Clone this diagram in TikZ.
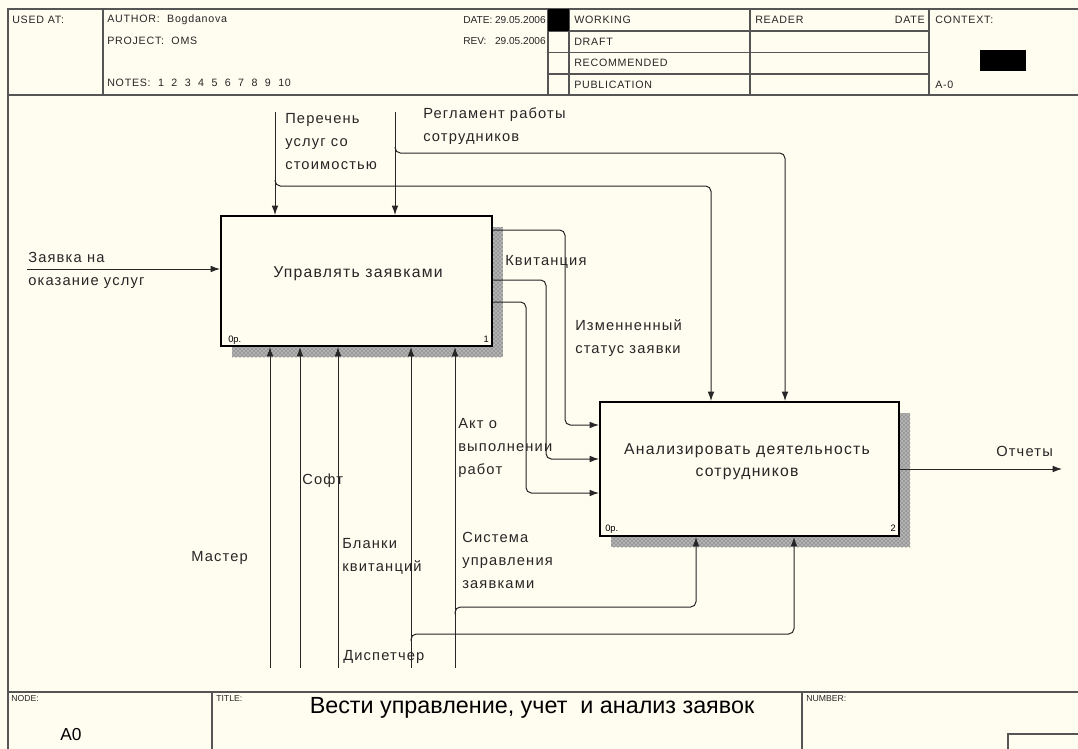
\documentclass[tikz,border=0pt]{standalone}
\usepackage{fontspec}
\setmainfont{Liberation Sans}
\newfontfamily\lblfont[LetterSpace=8]{Liberation Sans}
\newfontfamily\hdrfont[LetterSpace=7]{Liberation Sans}
\usetikzlibrary{arrows.meta,calc,patterns}
\definecolor{paper}{RGB}{255,252,240}
\definecolor{rule}{RGB}{85,85,85}
\begin{document}
\begin{tikzpicture}[x=0.75pt,y=-0.75pt,
  frameline/.style={draw=rule, line width=0.8pt},
  hdr/.style={font=\hdrfont\fontsize{8}{9.6}\selectfont, inner sep=0pt, anchor=west, text=black!85},
  hdrr/.style={hdr, anchor=east},
  datefont/.style={font=\fontsize{7.6}{9}\selectfont},
  lbl/.style={font=\lblfont\fontsize{11}{17.25}\selectfont, inner sep=0pt, anchor=base west, align=left, text=black!85},
  boxtext/.style={font=\lblfont\fontsize{11.8}{16}\selectfont, inner sep=0pt, anchor=base, align=center, text=black!85},
  corner/.style={font=\fontsize{7}{8}\selectfont, inner sep=0pt, anchor=base west},
  actbox/.style={draw=black, line width=1.5pt, fill=paper, inner sep=0pt},
  flow/.style={draw=black!85, line width=0.75pt, rounded corners=4pt},
  tip/.style={-{Latex[length=7pt,width=5pt]}},
]
\useasboundingbox (0,0) rectangle (1078,749);
\fill[paper] (0,0) rectangle (1078,749);

% ---- header frame ----
\draw[frameline] (1078,9) -- (8,9) -- (8,749);
\draw[frameline] (8,95) -- (1078,95);
\draw[frameline] (103,9) -- (103,95);
\draw[frameline] (548,9) -- (548,95);
\draw[frameline] (569,9) -- (569,95);
\draw[frameline] (750,9) -- (750,95);
\draw[frameline] (929,9) -- (929,95);
\foreach \yy in {31,52.5,74} \draw[frameline] (548,\yy) -- (929,\yy);
\fill[black] (548,9) rectangle (569,31);
\fill[black] (980,50) rectangle (1026,71);

\node[hdr] (usedat) at (12,20) {USED AT:};
\node[hdr] (author) at (107,20) {AUTHOR:~ Bogdanova};
\node[hdr] (project) at (107,41) {PROJECT:~ OMS};
\node[hdr] (notes) at (107,83) {NOTES:~ 1~ 2~ 3~ 4~ 5~ 6~ 7~ 8~ 9~ 10};
\node[hdr, datefont] (datek) at (463,20) {DATE:};
\node[hdrr, datefont] (datev) at (546,20) {29.05.2006};
\node[hdr, datefont] (revk) at (463,41) {REV:};
\node[hdrr, datefont] (revv) at (546,41) {29.05.2006};
\node[hdr] (working) at (574,20) {WORKING};
\node[hdr] (draft) at (574,42) {DRAFT};
\node[hdr] (recom) at (574,63) {RECOMMENDED};
\node[hdr] (publ) at (574,85) {PUBLICATION};
\node[hdr] (reader) at (755,20) {READER};
\node[hdrr] (rdate) at (925,20) {DATE};
\node[hdr] (context) at (935,20) {CONTEXT:};
\node[hdr] (aminus) at (935,85) {A-0};

% ---- footer frame ----
\draw[frameline] (8,692) -- (1078,692);
\draw[frameline] (212,692) -- (212,749);
\draw[frameline] (802,692) -- (802,749);
\draw[frameline] (1078,734) -- (1008,734) -- (1008,749);
\node[hdr, font=\fontsize{6.5}{8}\selectfont] (nodek) at (11,699) {NODE:};
\node[hdr, font=\fontsize{6.5}{8}\selectfont] (titlek) at (216,699) {TITLE:};
\node[hdr, font=\fontsize{6.5}{8}\selectfont] (numberk) at (806,699) {NUMBER:};
\node[font=\fontsize{13}{15}\selectfont, inner sep=0pt] (nodev) at (71,735) {A0};
\node[font=\fontsize{17.5}{20}\selectfont, inner sep=0pt] (titlev) at (532,708) {Вести управление, учет~ и анализ заявок};

% ---- activity boxes with hatched shadows ----
\fill[black!30] (232,227) rectangle (503,357);
\fill[pattern=crosshatch dots, pattern color=black!70] (232,227) rectangle (503,357);
\fill[black!30] (611,413) rectangle (910,547);
\fill[pattern=crosshatch dots, pattern color=black!70] (611,413) rectangle (910,547);
\node[actbox, minimum width=203.25pt, minimum height=97.5pt] (b1) at (356.5,281) {};
\node[actbox, minimum width=224.25pt, minimum height=100.5pt] (b2) at (749.5,469) {};
\node[boxtext] (t1) at (358,277) {Управлять заявками};
\node[boxtext] (t2) at (747,476) {Анализировать деятельность\\сотрудников};
\node[corner] (n1a) at (228,342) {0р.};
\node[corner, anchor=base east] (n1b) at (489,342) {1};
\node[corner] (n2a) at (605,531) {0р.};
\node[corner, anchor=base east] (n2b) at (896,531) {2};

% ---- input ----
\coordinate (inZ) at (27,269);
\draw[flow,tip] (inZ) -- (inZ -| b1.west);
\node[lbl] (linZ) at (28,285) {Заявка на\\оказание услуг};

% ---- controls ----
\coordinate (cPer) at (275,112);
\coordinate (cReg) at (395,112);
\draw[flow,tip] (cPer) -- (cPer |- b1.north);
\draw[flow,tip] (cReg) -- (cReg |- b1.north);
\coordinate (jPer) at (275,180);
\coordinate (kPer) at (711,186);
\draw[flow,tip] (jPer) |- (kPer) -- (kPer |- b2.north);
\coordinate (jReg) at (395,147);
\coordinate (kReg) at (785,153);
\draw[flow,tip] (jReg) |- (kReg) -- (kReg |- b2.north);
\node[lbl] (lPer) at (285,169) {Перечень\\услуг со\\стоимостью};
\node[lbl] (lReg) at (423,142) {Регламент работы\\сотрудников};

% ---- outputs of box 1 into box 2 ----
\coordinate (q1a) at (565,230); \coordinate (q1b) at (565,425);
\coordinate (q2a) at (546,280); \coordinate (q2b) at (546,459);
\coordinate (q3a) at (526,302); \coordinate (q3b) at (526,493);
\draw[flow,tip] (b1.east |- q1a) -- (q1a) -- (q1b) -- (b2.west |- q1b);
\draw[flow,tip] (b1.east |- q2a) -- (q2a) -- (q2b) -- (b2.west |- q2b);
\draw[flow,tip] (b1.east |- q3a) -- (q3a) -- (q3b) -- (b2.west |- q3b);
\node[lbl] (lKv) at (505,265) {Квитанция};
\node[lbl] (lIz) at (575,353) {Изменненный\\статус заявки};
\node[lbl] (lAkt) at (458,474) {Акт о\\выполнении\\работ};

% ---- output ----
\coordinate (outR) at (1062,469);
\draw[flow,tip] (b2.east |- outR) -- (outR);
\node[lbl] (lOt) at (996,456) {Отчеты};

% ---- mechanisms ----
\coordinate (mMas) at (270,668);
\coordinate (mSoft) at (300,668);
\coordinate (mBl) at (338,668);
\coordinate (mDis) at (411,668);
\coordinate (mSys) at (455,668);
\foreach \m in {mMas,mSoft,mBl,mDis,mSys}
  \draw[flow,tip] (\m) -- (\m |- b1.south);
\coordinate (jSys) at (455,614);
\coordinate (kSys) at (696,607);
\draw[flow,tip] (jSys) |- (kSys) -- (kSys |- b2.south);
\coordinate (jDis) at (411,641);
\coordinate (kDis) at (794,634);
\draw[flow,tip] (jDis) |- (kDis) -- (kDis |- b2.south);
\node[lbl] (lMas) at (191,561) {Мастер};
\node[lbl] (lSoft) at (302,484) {Софт};
\node[lbl] (lBl) at (342,571) {Бланки\\квитанций};
\node[lbl] (lSys) at (462,588) {Система\\управления\\заявками};
\node[lbl] (lDis) at (343,660) {Диспетчер};
\end{tikzpicture}
\end{document}
